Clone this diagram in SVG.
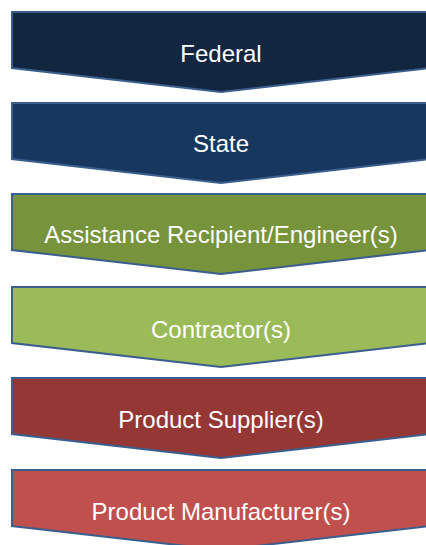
<svg xmlns="http://www.w3.org/2000/svg" width="426" height="545" viewBox="0 0 426 545">
<style>
.s{stroke:#3A5F8F;stroke-width:2;stroke-linejoin:miter}
.t{font-family:"Liberation Sans",Arial,sans-serif;font-size:24px;fill:#FFFFFF;text-anchor:middle}
</style>
<defs>
<path id="chev" d="M12,0 H430 V56 L221,80 L12,56 Z"/>
</defs>
<rect width="426" height="545" fill="#FFFFFF"/>
<g id="federal" transform="translate(0,12)">
<use href="#chev" class="s" fill="#132640"/>
<text class="t" x="221" y="50">Federal</text>
</g>
<g id="state" transform="translate(0,103)">
<use href="#chev" class="s" fill="#17375E"/>
<text class="t" x="221" y="49">State</text>
</g>
<g id="assistance" transform="translate(0,194)">
<use href="#chev" class="s" fill="#77933C"/>
<text class="t" x="221" y="49">Assistance Recipient/Engineer(s)</text>
</g>
<g id="contractor" transform="translate(0,287)">
<use href="#chev" class="s" fill="#9BBB59"/>
<text class="t" x="221" y="51">Contractor(s)</text>
</g>
<g id="supplier" transform="translate(0,378)">
<use href="#chev" class="s" fill="#953735"/>
<text class="t" x="221" y="50">Product Supplier(s)</text>
</g>
<g id="manufacturer" transform="translate(0,470)">
<use href="#chev" class="s" fill="#C0504D"/>
<text class="t" x="221" y="50">Product Manufacturer(s)</text>
</g>
<g id="connectors"></g>
</svg>
